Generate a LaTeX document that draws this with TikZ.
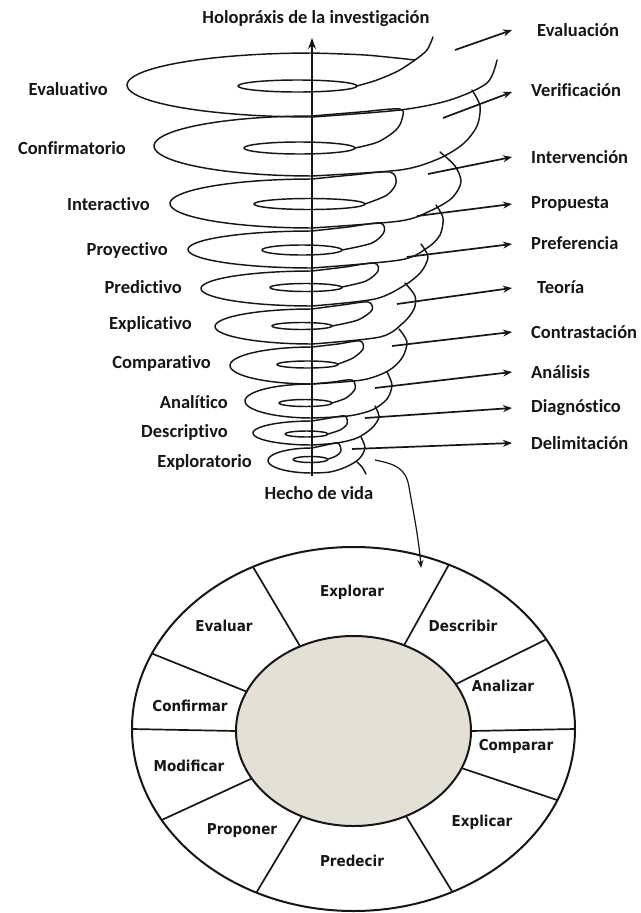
\documentclass[tikz,border=0pt]{standalone}
\usepackage{fontspec}
\setmainfont[Ligatures=NoCommon]{Carlito}
\newfontfamily\wheelfont[FakeStretch=0.9]{DejaVu Sans}
\usetikzlibrary{arrows.meta}
\definecolor{ink}{RGB}{22,22,22}
\definecolor{core}{RGB}{228,224,214}

% one turn of the coil: outer rim from the right-hand bend, round the left end,
% back along the top to the fold that drops onto the inner ring
\newcommand\spiralturn[5]{%
  \draw[spiral] plot[smooth] coordinates {#4}
    -- plot[domain=90:270,samples=40] ({312+#1*cos(\x)},{#2+#3*sin(\x)})
    -- plot[smooth] coordinates {#5};}

\begin{document}
\begin{tikzpicture}[x=1pt,y=-1pt,
  spiral/.style={draw=ink, line width=1.45pt, line cap=round, line join=round},
  axisline/.style={draw=ink, line width=2.3pt, -{Stealth[length=11pt,width=8pt]}},
  pointer/.style={draw=ink, line width=1.7pt, -{Stealth[length=9pt,width=7pt]}},
  link/.style={draw=ink, line width=1.2pt, -{Stealth[length=8pt,width=6pt]}},
  lbl/.style={font=\bfseries\fontsize{18.5}{22}\selectfont, text=ink, inner sep=0pt},
  wlbl/.style={font=\wheelfont\bfseries\fontsize{15}{18}\selectfont, text=ink, inner sep=0pt},
  rim/.style={draw=ink, line width=2pt},
  spoke/.style={draw=ink, line width=1.7pt},
]
\fill[white] (0,0) rectangle (640,913);
\useasboundingbox (0,0) rectangle (640,913);

% ---------- coil ----------
\spiralturn{185}{85}{32}{(497,60) (487,83) (450,100) (400,110) (312,117)}
  {(312,53) (365,55) (415,60)}
\draw[spiral] plot[smooth] coordinates {(433,37) (427,50) (415,60) (398,71) (377,80) (357,86)};
\spiralturn{158}{146}{30}{(472,90) (480,106) (477,126) (463,144) (438,159) (400,170) (312,176)}
  {(312,116) (360,112) (400,109) (402,119) (396,130) (378,142) (355,148)}
\spiralturn{142}{203.5}{24.5}{(440,152) (455,166) (461,182) (452,198) (430,211) (400,221) (312,228)}
  {(312,179) (352,175) (390,172) (396,183) (387,195) (365,204)}
\spiralturn{124}{249.5}{18.5}{(436,205) (443,218) (440,235) (427,248) (400,260) (312,268)}
  {(312,231) (348,227) (380,223) (384,232) (372,243) (342,250)}
\spiralturn{111}{288.5}{17.5}{(421,244) (428,257) (421,272) (405,285) (375,299) (312,306)}
  {(312,271) (345,267) (374,263) (378,271) (366,281) (342,287)}
\spiralturn{97}{326.5}{17.5}{(405,283) (415,296) (414,309) (403,323) (380,337) (312,344)}
  {(312,309) (342,305) (368,302) (372,310) (358,320) (332,326)}
\spiralturn{82}{365.5}{18.5}{(399,329) (407,342) (402,358) (388,371) (362,380) (312,384)}
  {(312,347) (338,344) (360,341) (363,349) (353,358) (338,364)}
\spiralturn{67}{401}{17}{(387,372) (392,385) (387,399) (372,410) (348,416) (312,418)}
  {(312,384) (333,382) (352,380) (355,389) (346,398) (332,403)}
\spiralturn{59}{433}{12}{(375,406) (379,417) (372,428) (357,438) (337,443) (312,445)}
  {(312,421) (330,418) (345,416) (347,424) (340,430) (328,434)}
\spiralturn{44}{460.5}{12.5}{(361,437) (365,448) (359,459) (346,467) (330,472) (312,473)}
  {(312,448) (326,445) (338,443) (341,451) (336,456) (328,459)}
\draw[spiral] plot[smooth] coordinates {(357,462) (362,467) (366,474)};

% inner rings
\foreach \cx/\cy/\rx/\ry in {297.5/86/59.5/6, 299.5/148/55.5/6, 309.5/204/55.5/5.5,
    302/250/40/5, 306/287.5/36/4, 302/326/30/3.5, 307.5/364.5/30.5/3.5,
    305.5/403/26.5/3.5, 306.5/434/21.5/3, 310.5/459.5/17.5/3}
  \draw[spiral] (\cx,\cy) ellipse [x radius=\rx, y radius=\ry];

% vertical axis
\coordinate (axbot) at (312,476);
\coordinate (axtop) at (312,38);
\draw[axisline] (axbot) -- (axtop);
\node[lbl] (title) at (316,19) {Holopráxis de la investigación};
\node[lbl] (hecho) at (319,493) {Hecho de vida};

% levels on the left
\foreach \nm/\xx/\yy/\tx in {evo/108/89/Evaluativo, con/126/148/Confirmatorio,
    int/150/204/Interactivo, pro/168/250/Proyectivo, pre/182/287/Predictivo,
    exp/192/324/Explicativo, com/211/363/Comparativo, ana/228/402/Analítico,
    des/228/432/Descriptivo, exl/252/462/Exploratorio}
  \node[lbl, anchor=east] (L\nm) at (\xx,\yy) {\tx};

% outcomes on the right
\foreach \i/\xx/\yy/\tx in {1/537/30/Evaluación, 2/531/90/Verificación,
    3/531/157/Intervención, 4/531/204/Propuesta, 5/531/243/Preferencia,
    6/537/287/Teoría, 7/531/332/Contrastación, 8/531/372/Análisis,
    9/531/408/Diagnóstico, 10/531/443/Delimitación}
  \node[lbl, anchor=west] (R\i) at (\xx,\yy) {\tx};

\foreach \i/\sx/\sy/\ey in {1/455/50/30, 2/443/118/92, 3/428/174/157, 4/417/216/204,
    5/407/257/244, 6/397/304/288, 7/392/346/332, 8/375/388/372, 9/365/418/408,
    10/352/449/443}{
  \coordinate (s\i) at (\sx,\sy);
  \coordinate (e\i) at (512,\ey);
  \draw[pointer] (s\i) -- (e\i);
}

% ---------- wheel ----------
\coordinate (wo) at (353.5,729);
\coordinate (wi) at (353.5,731);
\fill[core] (wi) ellipse [x radius=117.5, y radius=95];
\draw[rim] (wo) ellipse [x radius=221.5, y radius=182];
\draw[rim] (wi) ellipse [x radius=117.5, y radius=95];
\foreach \t in {-117,-64.5,-29.5,0,23,63.5,116,150,180,204.5}
  \draw[spoke] ({353.5+117.5*cos(\t)},{731+95*sin(\t)}) -- ({353.5+221.5*cos(\t)},{729+182*sin(\t)});

\foreach \nm/\xx/\yy/\tx in {w1/352/592/Explorar, w2/463/626/Describir,
    w3/503/686/Analizar, w4/516/746/Comparar, w5/482/822/Explicar,
    w6/352/861/Predecir, w7/242/831/Proponer, w8/189/766/Modificar,
    w9/190/706/Confirmar, w10/224/626/Evaluar}
  \node[wlbl] (\nm) at (\xx,\yy) {\tx};

% from the base of the coil down into the wheel
\coordinate (hstart) at (375,460);
\coordinate (htip) at (421,568);
\draw[link] (hstart) .. controls (395,464) and (406,468) .. (409,487)
  .. controls (413,510) and (419,540) .. (htip);
\end{tikzpicture}
\end{document}
